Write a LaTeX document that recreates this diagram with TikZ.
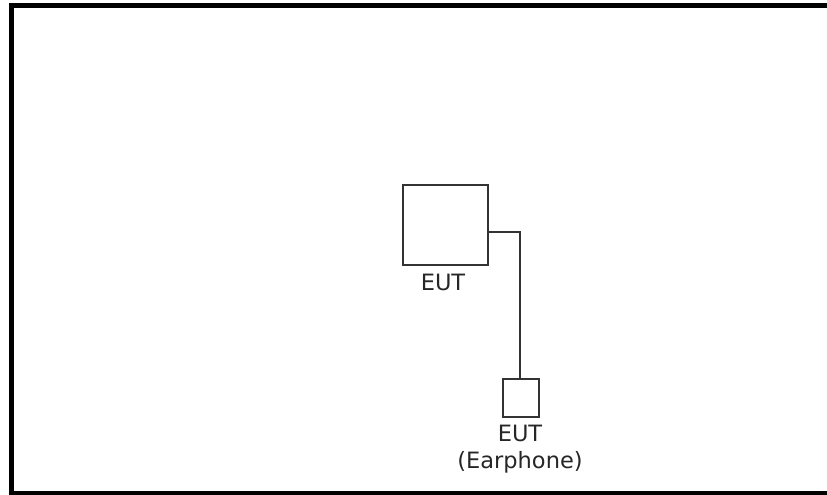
\documentclass[tikz,border=0pt]{standalone}
\usepackage{fontspec}
\setmainfont{DejaVu Sans}
\begin{document}
\begin{tikzpicture}[x=1pt,y=-1pt,
  box/.style={draw=black!80,line width=2pt,inner sep=0pt,fill=white},
  lbl/.style={font=\fontsize{22.5}{27}\selectfont,inner sep=0pt,align=center,text=black!85}]
\useasboundingbox (0,0) rectangle (827,495);
\clip (0,0) rectangle (827,495);
\draw[line width=5pt,black] (11,6) rectangle (840,493);
\node[box,minimum width=85pt,minimum height=80pt] (eut) at (445.5,225) {};
\node[box,minimum width=36pt,minimum height=38pt] (ear) at (521,398) {};
\node[lbl,anchor=base] (eutl) at (443,290) {EUT};
\node[lbl,anchor=base] (earl) at (520,468) {EUT\\(Earphone)};
\coordinate (bend) at (520,232);
\draw[line width=2pt,black!80] (eut.east |- bend) -- (bend) -- (ear.north -| bend);
\end{tikzpicture}
\end{document}
